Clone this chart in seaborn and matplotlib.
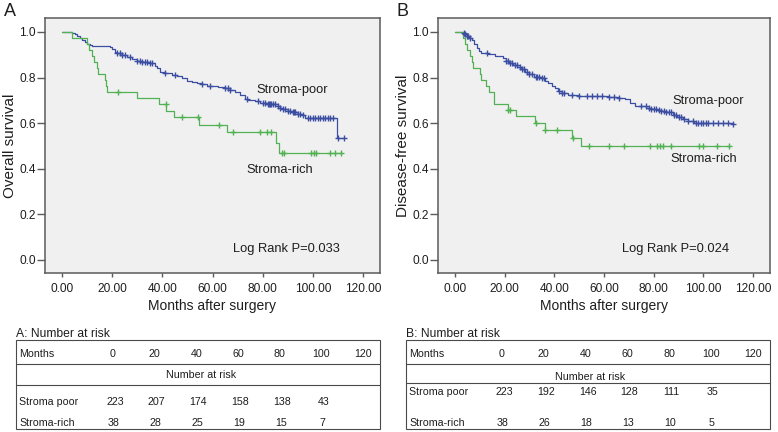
import numpy as np
import pandas as pd
import matplotlib
matplotlib.use("Agg")
import matplotlib.pyplot as plt
import seaborn as sns
from matplotlib.patches import Rectangle

# ---------------- data ----------------
# Panel A: overall survival (step points: time in months, survival)
a_poor_t = [0, 4, 5, 6, 7, 8, 9, 10, 11, 12, 19, 20, 21, 22, 24, 26, 28, 30, 32, 35, 37, 38, 39, 41, 44,
            46, 48, 50, 52, 54, 56, 58, 62, 65, 67, 69, 71, 73, 74, 77, 79, 82, 86, 87, 88, 90, 92, 94,
            96, 97, 109.5, 112.5]
a_poor_s = [1.0, .996, .99, .982, .973, .964, .955, .946, .942, .938, .934, .925, .912, .906, .90, .89,
            .883, .874, .867, .862, .852, .84, .826, .818, .812, .805, .796, .786, .78, .774, .77, .764,
            .76, .754, .746, .736, .722, .708, .703, .697, .69, .684, .676, .668, .66, .655, .648, .642,
            .636, .622, .535, .535]
a_poor_cens = [22, 23, 24, 25, 27, 30, 31, 32, 33, 34, 35, 36, 41, 45, 56, 59, 65, 66, 67, 73.6, 78, 80,
               81, 82, 82.5, 83, 83.5, 84, 85, 86, 87, 88, 89, 90, 91, 92, 92.5, 93, 94, 95, 96, 98, 99,
               100, 101, 102, 103, 104, 105, 106, 107, 108, 110, 112.5]
a_rich_t = [0, 3.9, 9.8, 10.9, 11.8, 12.8, 13.8, 14.5, 17.1, 17.5, 18.0, 30.0, 38.5, 41.6, 44.5, 54.5,
            65.8, 85.4, 86.4, 111.6]
a_rich_s = [1.0, .974, .947, .921, .895, .868, .842, .816, .789, .763, .737, .709, .683, .655, .626,
            .593, .560, .515, .467, .467]
a_rich_cens = [22.2, 41.4, 48, 54.4, 62.5, 68.3, 79, 81.7, 83.5, 87.6, 88.5, 99.4, 100.3, 101.4, 106.7,
               108.7, 111.3]

# Panel B: disease-free survival
b_poor_t = [0, 3.4, 4.0, 4.7, 5.5, 6.7, 7.7, 8.7, 9.7, 10.7, 13.3, 16, 19.2, 20.5, 21.8, 23.5, 25.1,
            26.8, 28.4, 30, 31.7, 35, 36.3, 37.6, 39, 40.3, 41.6, 42.9, 45.5, 50, 62, 66, 68.6, 70.5,
            72.6, 77.1, 79, 81.1, 83, 85, 87.7, 89.5, 91.6, 94, 96.2, 112]
b_poor_s = [1.0, .996, .99, .984, .975, .965, .948, .928, .915, .906, .904, .895, .885, .874, .863,
            .856, .848, .837, .826, .815, .804, .797, .786, .775, .764, .753, .742, .731, .724, .72,
            .716, .712, .706, .69, .673, .668, .663, .658, .653, .648, .636, .627, .617, .608, .60, .597]
b_poor_cens = [3.5, 4.2, 4.8, 5.3, 6, 13, 20.5, 21.5, 22, 23, 24, 25, 26, 27, 28, 29, 30, 31, 32.5, 33,
               34, 35, 36, 42, 43, 44, 47, 50, 53, 55, 57, 59, 62, 64, 66, 75, 77, 78, 79, 80, 81, 82,
               83, 84, 85, 86, 87, 88, 89, 90, 91, 92, 94, 96, 97, 98, 99, 100, 101, 102, 104, 106,
               108, 110, 112]
b_rich_t = [0, 3.2, 4.1, 4.7, 6.2, 6.7, 7.4, 10.2, 10.7, 12.6, 13.9, 15.6, 15.9, 21.2, 24.5, 32.4,
            36.1, 47.1, 50.8, 110.7]
b_rich_s = [1.0, .974, .947, .921, .895, .868, .842, .816, .789, .763, .737, .711, .684, .658, .632,
            .602, .570, .536, .50, .50]
b_rich_cens = [21.5, 22.3, 32.6, 36.3, 41.2, 47.4, 54, 62, 68.2, 78.4, 81.2, 82.5, 83.8, 87, 98.2,
               99.8, 105.4, 110.5]

x_ticks = [0, 20, 40, 60, 80, 100, 120]
y_ticks = [0.0, 0.2, 0.4, 0.6, 0.8, 1.0]

# Number-at-risk tables
risk_months = [0, 20, 40, 60, 80, 100, 120]
a_risk_poor = [223, 207, 174, 158, 138, 43]
a_risk_rich = [38, 28, 25, 19, 15, 7]
b_risk_poor = [223, 192, 146, 128, 111, 35]
b_risk_rich = [38, 26, 18, 13, 10, 5]

# ---------------- style ----------------
sns.set_theme(style="ticks")
plt.rcParams['font.family'] = ['Liberation Sans', 'DejaVu Sans']

BLUE = "#3b4ea2"
GREEN = "#52b152"
SPINE = "#5a5a5a"
TXT = "#1e1e1e"

W, H = 778, 432
fig = plt.figure(figsize=(W / 100, H / 100), dpi=100)
fig.patch.set_facecolor("white")


def rect(l, t, r, b):
    return [l / W, 1 - b / H, (r - l) / W, (b - t) / H]


def km(ax, t, s, cens, color):
    df = pd.DataFrame({"t": t, "s": s})
    sns.lineplot(data=df, x="t", y="s", drawstyle="steps-post", estimator=None, sort=False,
                 color=color, lw=0.9, ax=ax)
    t_arr = np.asarray(t)
    s_arr = np.asarray(s)
    cy = s_arr[np.searchsorted(t_arr, np.asarray(cens), side="right") - 1]
    sns.scatterplot(x=cens, y=cy, marker="+", color=color, s=22, linewidth=1.0, ax=ax, zorder=3)


def style_axes(ax, ylabel):
    ax.set_facecolor("#f0f0f0")
    for sp in ax.spines.values():
        sp.set_visible(True)
        sp.set_color(SPINE)
        sp.set_linewidth(1.1)
    ax.set_xlim(-6.8, 126.8)
    ax.set_ylim(-0.057, 1.061)
    ax.set_xticks(x_ticks)
    ax.set_xticklabels([f"{v:.2f}" for v in x_ticks])
    ax.set_yticks(y_ticks)
    ax.set_yticklabels([f"{v:.1f}" for v in y_ticks])
    ax.tick_params(direction="out", width=1.0, color=SPINE, labelsize=8.6,
                   labelcolor=TXT, pad=2)
    ax.tick_params(axis="y", length=5.5, pad=1)
    ax.tick_params(axis="x", length=3, pad=4)
    ax.set_xlabel("Months after surgery", fontsize=10, color=TXT, labelpad=3)
    ax.set_ylabel(ylabel, fontsize=11, color=TXT, labelpad=2)


axA = fig.add_axes(rect(45, 18, 380, 273))
km(axA, a_poor_t, a_poor_s, a_poor_cens, BLUE)
km(axA, a_rich_t, a_rich_s, a_rich_cens, GREEN)
style_axes(axA, "Overall survival")
axA.text(77.6, 0.746, "Stroma-poor", fontsize=9.3, color=TXT, va="center")
axA.text(73.6, 0.395, "Stroma-rich", fontsize=9.3, color=TXT, va="center")
axA.text(68, 0.047, "Log Rank P=0.033", fontsize=9.3, color=TXT, va="center")

axB = fig.add_axes(rect(438, 18, 770, 273))
km(axB, b_poor_t, b_poor_s, b_poor_cens, BLUE)
km(axB, b_rich_t, b_rich_s, b_rich_cens, GREEN)
style_axes(axB, "Disease-free survival")
axB.text(87.6, 0.699, "Stroma-poor", fontsize=9.3, color=TXT, va="center")
axB.text(86.7, 0.441, "Stroma-rich", fontsize=9.3, color=TXT, va="center")
axB.text(67.3, 0.047, "Log Rank P=0.024", fontsize=9.3, color=TXT, va="center")

fig.text(4 / W, 1 - 12 / H, "A", fontsize=13, color=TXT, va="center", ha="left")
fig.text(396 / W, 1 - 12 / H, "B", fontsize=13, color=TXT, va="center", ha="left")

# ---------------- tables ----------------
tab = fig.add_axes([0, 0, 1, 1])
tab.set_xlim(0, W)
tab.set_ylim(H, 0)
tab.axis("off")
tab.patch.set_alpha(0)

LINE = "#4a4a4a"
FS = 7.7


def risk_table(x0, x1, title, col0, step, line2, y_nar, y_poor, poor, rich):
    tab.text(x0, 334, title, fontsize=8.7, color=TXT, va="center", ha="left")
    tab.add_patch(Rectangle((x0, 340), x1 - x0, 89, fill=False, ec=LINE, lw=0.8))
    tab.plot([x0, x1], [364, 364], color=LINE, lw=0.8)
    tab.plot([x0, x1], [line2, line2], color=LINE, lw=0.8)
    tab.text(x0 + 3, 354, "Months", fontsize=FS, color=TXT, va="center", ha="left")
    for i, m in enumerate(risk_months):
        tab.text(col0 + i * step, 354, str(m), fontsize=FS, color=TXT, va="center", ha="center")
    tab.text(col0 + 2.1 * step, y_nar, "Number at risk", fontsize=FS, color=TXT, va="center",
             ha="center")
    tab.text(x0 + 3, y_poor, "Stroma poor", fontsize=FS, color=TXT, va="center", ha="left")
    tab.text(x0 + 3, 423, "Stroma-rich", fontsize=FS, color=TXT, va="center", ha="left")
    for i, v in enumerate(poor):
        tab.text(col0 + 2 + i * step, y_poor, str(v), fontsize=FS, color=TXT, va="center",
                 ha="center")
    for i, v in enumerate(rich):
        tab.text(col0 + 1 + i * step, 423, str(v), fontsize=FS, color=TXT, va="center", ha="center")


risk_table(16, 380, "A: Number at risk", 113, 41.7, 385, 375, 402, a_risk_poor, a_risk_rich)
risk_table(406, 770, "B: Number at risk", 502, 41.8, 383, 377, 392, b_risk_poor, b_risk_rich)

fig.savefig("out.png", dpi=100)
